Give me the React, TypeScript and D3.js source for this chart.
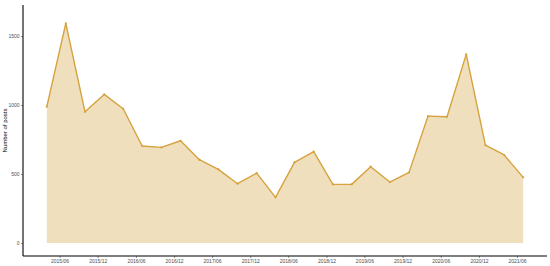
import React, { useEffect, useRef } from "react";
import * as d3 from "d3";

// quarterly points, first day of each quarter month
const dates = [
  "2015-04-01", "2015-07-01", "2015-10-01", "2016-01-01", "2016-04-01", "2016-07-01",
  "2016-10-01", "2017-01-01", "2017-04-01", "2017-07-01", "2017-10-01", "2018-01-01",
  "2018-04-01", "2018-07-01", "2018-10-01", "2019-01-01", "2019-04-01", "2019-07-01",
  "2019-10-01", "2020-01-01", "2020-04-01", "2020-07-01", "2020-10-01", "2021-01-01",
  "2021-04-01", "2021-07-01",
];
const posts = [
  988, 1592, 951, 1077, 973, 703, 693, 741, 604, 534, 430, 507, 331,
  585, 662, 425, 425, 553, 442, 512, 920, 915, 1367, 710, 638, 476,
];
const yTicks = [0, 500, 1000, 1500];
const xTickDates = [
  "2015-06-01", "2015-12-01", "2016-06-01", "2016-12-01", "2017-06-01", "2017-12-01",
  "2018-06-01", "2018-12-01", "2019-06-01", "2019-12-01", "2020-06-01", "2020-12-01",
  "2021-06-01",
];

const App = () => {
  const svgRef = useRef<SVGSVGElement>(null);

  useEffect(() => {
    const width = 550;
    const height = 266;
    const panel = { left: 23, right: 547, top: 5, bottom: 256 };

    const parseDate = d3.utcParse("%Y-%m-%d");
    const data = dates.map((d, i) => ({ date: parseDate(d) as Date, value: posts[i] }));

    const svg = d3.select(svgRef.current)
      .attr("width", width)
      .attr("height", height);
    svg.selectAll("*").remove();

    // x scale with ggplot-like 5% expansion
    const [d0, d1] = d3.extent(data, (d) => d.date) as [Date, Date];
    const span = +d1 - +d0;
    const xScale = d3.scaleUtc()
      .domain([new Date(+d0 - span * 0.05), new Date(+d1 + span * 0.05)])
      .range([panel.left, panel.right]);

    const yScale = d3.scaleLinear()
      .domain([-94, 1725])
      .range([panel.bottom, panel.top]);

    const area = d3.area<{ date: Date; value: number }>()
      .x((d) => xScale(d.date))
      .y0(yScale(0))
      .y1((d) => yScale(d.value));

    const line = d3.line<{ date: Date; value: number }>()
      .x((d) => xScale(d.date))
      .y((d) => yScale(d.value));

    svg.append("path")
      .datum(data)
      .attr("d", area)
      .attr("fill", "#f0dfbd");

    svg.append("path")
      .datum(data)
      .attr("d", line)
      .attr("fill", "none")
      .attr("stroke", "#d6a23e")
      .attr("stroke-width", 1.4)
      .attr("stroke-linejoin", "round");

    svg.append("g")
      .selectAll("circle")
      .data(data)
      .join("circle")
      .attr("cx", (d) => xScale(d.date))
      .attr("cy", (d) => yScale(d.value))
      .attr("r", 1.1)
      .attr("fill", "#d6a23e");

    const font = "Liberation Sans, Arial, sans-serif";

    // y axis
    const yAxis = d3.axisLeft(yScale)
      .tickValues(yTicks)
      .tickFormat(d3.format("d"))
      .tickSize(2)
      .tickPadding(1.5)
      .tickSizeOuter(0);
    const gy = svg.append("g")
      .attr("transform", `translate(${panel.left},0)`)
      .call(yAxis);
    gy.select(".domain").remove();
    gy.selectAll(".tick line").attr("stroke", "#333333").attr("stroke-width", 0.5);
    gy.selectAll(".tick text")
      .attr("fill", "#4d4d4d")
      .style("font-family", font)
      .style("font-size", "5px");

    // x axis
    const xAxis = d3.axisBottom(xScale)
      .tickValues(xTickDates.map((d) => parseDate(d) as Date))
      .tickFormat((d) => d3.utcFormat("%Y/%m")(d as Date))
      .tickSize(2)
      .tickPadding(1.5)
      .tickSizeOuter(0);
    const gx = svg.append("g")
      .attr("transform", `translate(0,${panel.bottom})`)
      .call(xAxis);
    gx.select(".domain").remove();
    gx.selectAll(".tick line").attr("stroke", "#333333").attr("stroke-width", 0.5);
    gx.selectAll(".tick text")
      .attr("fill", "#4d4d4d")
      .style("font-family", font)
      .style("font-size", "5px");

    // axis lines
    svg.append("line")
      .attr("x1", panel.left).attr("x2", panel.left)
      .attr("y1", panel.top).attr("y2", panel.bottom)
      .attr("stroke", "black").attr("stroke-width", 1.1);
    svg.append("line")
      .attr("x1", panel.left).attr("x2", panel.right)
      .attr("y1", panel.bottom).attr("y2", panel.bottom)
      .attr("stroke", "black").attr("stroke-width", 1.1);

    // y title
    svg.append("text")
      .attr("transform", `translate(7,${(panel.top + panel.bottom) / 2}) rotate(-90)`)
      .attr("text-anchor", "middle")
      .style("font-family", font)
      .style("font-size", "6px")
      .attr("fill", "black")
      .text("Number of posts");
  }, []);

  return (
    <svg ref={svgRef} style={{ position: "absolute", left: 0, top: 0 }}></svg>
  );
};

export default App;
